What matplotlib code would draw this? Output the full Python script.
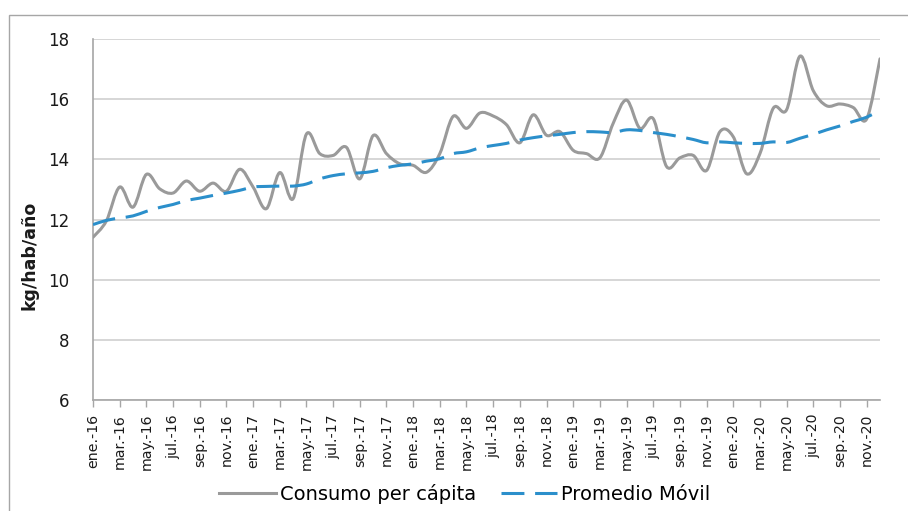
import matplotlib
matplotlib.use("Agg")
import matplotlib.pyplot as plt
import numpy as np
from matplotlib.path import Path
from matplotlib.patches import PathPatch, Rectangle
from matplotlib.lines import Line2D

plt.rcParams['font.family'] = ['DejaVu Sans']

months = ['ene.', 'feb.', 'mar.', 'abr.', 'may.', 'jun.', 'jul.', 'ago.', 'sep.', 'oct.', 'nov.', 'dic.']
years = ['16', '17', '18', '19', '20']
categories = [f"{m}-{y}" for y in years for m in months]

consumo = [11.41, 11.95, 13.08, 12.41, 13.50, 13.02, 12.88, 13.28, 12.94, 13.21,
           12.94, 13.67, 13.08, 12.36, 13.56, 12.69, 14.84, 14.19, 14.13, 14.40,
           13.35, 14.79, 14.19, 13.85, 13.80, 13.57, 14.19, 15.43, 15.03, 15.54,
           15.44, 15.15, 14.55, 15.48, 14.80, 14.92, 14.30, 14.19, 14.05, 15.20,
           15.97, 15.03, 15.35, 13.76, 14.05, 14.13, 13.63, 14.92, 14.75, 13.52,
           14.19, 15.70, 15.65, 17.43, 16.28, 15.78, 15.84, 15.72, 15.34, 17.34]

promedio = [11.83, 11.97, 12.05, 12.12, 12.27, 12.40, 12.50, 12.63, 12.71, 12.80,
            12.88, 12.97, 13.08, 13.10, 13.11, 13.11, 13.18, 13.35, 13.46, 13.52,
            13.55, 13.60, 13.72, 13.80, 13.85, 13.94, 14.02, 14.19, 14.25, 14.38,
            14.46, 14.53, 14.64, 14.72, 14.78, 14.83, 14.89, 14.92, 14.91, 14.89,
            14.98, 14.96, 14.89, 14.83, 14.75, 14.66, 14.55, 14.58, 14.55, 14.53,
            14.53, 14.58, 14.56, 14.70, 14.83, 14.98, 15.11, 15.26, 15.40, 15.63]

yticks = [6, 8, 10, 12, 14, 16, 18]

GRAY = '#9a9a9a'
BLUE = '#2b8fcb'
DASH = (0, (7.5, 3.5))


def smooth_path(xs, ys):
    # Excel-like smoothed line: cubic Bezier segments with Catmull-Rom control points
    xs = np.asarray(xs, float)
    ys = np.asarray(ys, float)
    n = len(xs)
    verts = [(xs[0], ys[0])]
    codes = [Path.MOVETO]
    for i in range(n - 1):
        p0 = (xs[max(i - 1, 0)], ys[max(i - 1, 0)])
        p1 = (xs[i], ys[i])
        p2 = (xs[i + 1], ys[i + 1])
        p3 = (xs[min(i + 2, n - 1)], ys[min(i + 2, n - 1)])
        c1 = (p1[0] + (p2[0] - p0[0]) / 6, p1[1] + (p2[1] - p0[1]) / 6)
        c2 = (p2[0] - (p3[0] - p1[0]) / 6, p2[1] - (p3[1] - p1[1]) / 6)
        verts += [c1, c2, p2]
        codes += [Path.CURVE4] * 3
    return Path(verts, codes)


W, H = 908, 511
fig = plt.figure(figsize=(W / 100, H / 100), dpi=100)
ax = fig.add_axes([93 / W, 1 - 400 / H, (880 - 93) / W, (400 - 39) / H])

# outer chart frame
fig.patches.append(Rectangle((9 / W, -0.05), 1.2, 1 - 15 / H + 0.05, transform=fig.transFigure,
                             fill=False, edgecolor='#a6a6a6', linewidth=1.0))

x = np.arange(len(categories))

p1 = PathPatch(smooth_path(x, consumo), fill=False, edgecolor=GRAY, linewidth=2.2,
               capstyle='round', joinstyle='round', zorder=3)
ax.add_patch(p1)
p2 = PathPatch(smooth_path(x, promedio), fill=False, edgecolor=BLUE, linewidth=2.2,
               linestyle=DASH, capstyle='butt', zorder=4)
ax.add_patch(p2)

ax.set_xlim(0, len(categories) - 1)
ax.set_ylim(6, 18)
ax.set_yticks(yticks)
ax.set_yticklabels([str(v) for v in yticks], fontsize=12, color='#1a1a1a')
ax.tick_params(axis='y', length=0, pad=17)
ax.grid(axis='y', color='#d0d0d0', linewidth=1.2)
ax.set_axisbelow(True)

ax.set_xticks(x[::2])
ax.set_xticklabels(categories[::2], rotation=90, fontsize=10.2, color='#1a1a1a')
ax.tick_params(axis='x', length=5, width=1, color='#a6a6a6', pad=5)

for s in ['top', 'right']:
    ax.spines[s].set_visible(False)
for s in ['left', 'bottom']:
    ax.spines[s].set_color('#a6a6a6')
    ax.spines[s].set_linewidth(1.2)

fig.text(30 / W, 1 - 255 / H, 'kg/hab/año', rotation=90, fontsize=12.5, fontweight='bold',
         ha='center', va='center', color='#1a1a1a')

handles = [Line2D([], [], color=GRAY, linewidth=2.2),
           Line2D([], [], color=BLUE, linewidth=2.2, linestyle=DASH)]
fig.legend(handles, ['Consumo per cápita', 'Promedio Móvil'], loc='center',
           bbox_to_anchor=(465 / W, 1 - 494 / H), ncol=2, frameon=False, fontsize=14,
           handlelength=2.9, handletextpad=0.2, columnspacing=1.3)

fig.savefig('out.png', dpi=100)
